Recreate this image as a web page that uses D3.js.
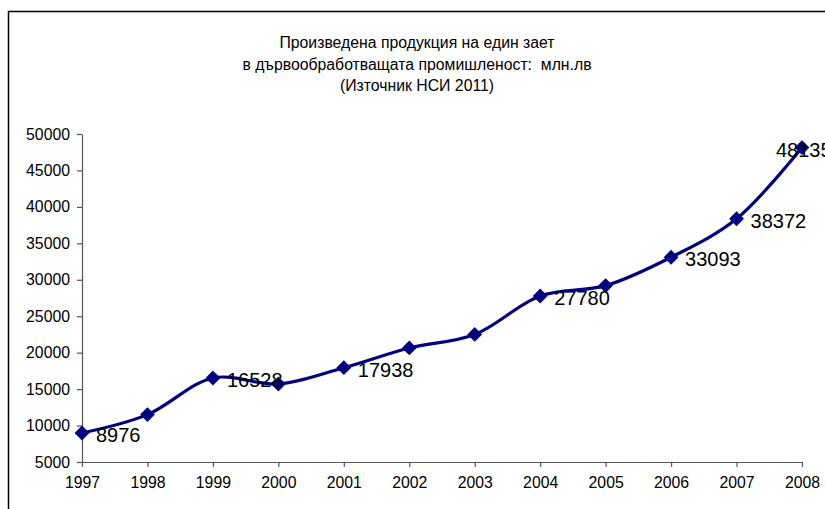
<!DOCTYPE html>
<html>
<head>
<meta charset="utf-8">
<script src="https://cdn.jsdelivr.net/npm/d3@7"></script>
<style>
  html, body { margin: 0; padding: 0; background: #fff; }
  svg { display: block; font-family: "Liberation Sans", Arial, sans-serif; }
</style>
</head>
<body>
<svg id="chart" width="825" height="509"></svg>
<script>
// Production per employee in the woodworking industry, 1997–2008
const years = [1997, 1998, 1999, 2000, 2001, 2002, 2003, 2004, 2005, 2006, 2007, 2008];
const values = [8976, 11500, 16528, 15700, 17938, 20650, 22500, 27780, 29200, 33093, 38372, 48135];
// Years whose value is printed next to the marker
const labelledYears = [1997, 1999, 2001, 2004, 2006, 2007, 2008];
const yTicks = [5000, 10000, 15000, 20000, 25000, 30000, 35000, 40000, 45000, 50000];
const titleLines = [
  "Произведена продукция на един зает",
  "в дървообработващата промишленост:  млн.лв",
  "(Източник НСИ 2011)"
];

const data = years.map((y, i) => ({ year: y, value: values[i] }));
const svg = d3.select("#chart");
const lineColor = "#000080";

// Outer frame of the chart area
svg.append("rect")
  .attr("x", 8.5).attr("y", 11.5)
  .attr("width", 840).attr("height", 520)
  .attr("fill", "none").attr("stroke", "#000").attr("stroke-width", 1.5);

// Title
svg.append("g").selectAll("text").data(titleLines).join("text")
  .attr("x", 417)
  .attr("y", (d, i) => 48 + i * 21.5)
  .attr("text-anchor", "middle")
  .attr("font-size", 15.8)
  .attr("fill", "#000")
  .style("white-space", "pre")
  .text(d => d);

const x = d3.scaleLinear().domain([1997, 2008]).range([82, 802]);
const y = d3.scaleLinear().domain([5000, 50000]).range([462, 134]);

// Y axis
const yAxis = svg.append("g")
  .attr("transform", "translate(82,0)")
  .call(d3.axisLeft(y).tickValues(yTicks).tickSize(5).tickSizeOuter(0).tickPadding(7).tickFormat(d3.format("d")));
// X axis
const xAxis = svg.append("g")
  .attr("transform", "translate(0,462)")
  .call(d3.axisBottom(x).tickValues(years).tickSize(5).tickSizeOuter(0).tickPadding(10).tickFormat(d3.format("d")));

[yAxis, xAxis].forEach(g => {
  g.select(".domain").attr("stroke", "#555").attr("stroke-width", 1.2);
  g.selectAll(".tick line").attr("stroke", "#555").attr("stroke-width", 1.2);
  g.selectAll(".tick text").attr("font-size", 15.8).attr("fill", "#000")
    .attr("font-family", "'Liberation Sans', Arial, sans-serif");
});

// Smoothed series line
const line = d3.line()
  .x(d => x(d.year))
  .y(d => y(d.value))
  .curve(d3.curveCatmullRom.alpha(0.5));

svg.append("path")
  .datum(data)
  .attr("d", line)
  .attr("fill", "none")
  .attr("stroke", lineColor)
  .attr("stroke-width", 3.2)
  .attr("stroke-linejoin", "round");

// Diamond markers
svg.append("g").selectAll("path").data(data).join("path")
  .attr("d", d3.symbol(d3.symbolSquare, 110)())
  .attr("transform", d => `translate(${x(d.year)},${y(d.value)}) rotate(45)`)
  .attr("fill", lineColor);

// Value labels
const lastYear = years[years.length - 1];
svg.append("g").selectAll("text")
  .data(data.filter(d => labelledYears.includes(d.year)))
  .join("text")
  .attr("x", d => x(d.year) + (d.year === lastYear ? -26 : 14))
  .attr("y", d => y(d.value) + 9)
  .attr("font-size", 20)
  .attr("fill", "#000")
  .text(d => d.value);
</script>
</body>
</html>
